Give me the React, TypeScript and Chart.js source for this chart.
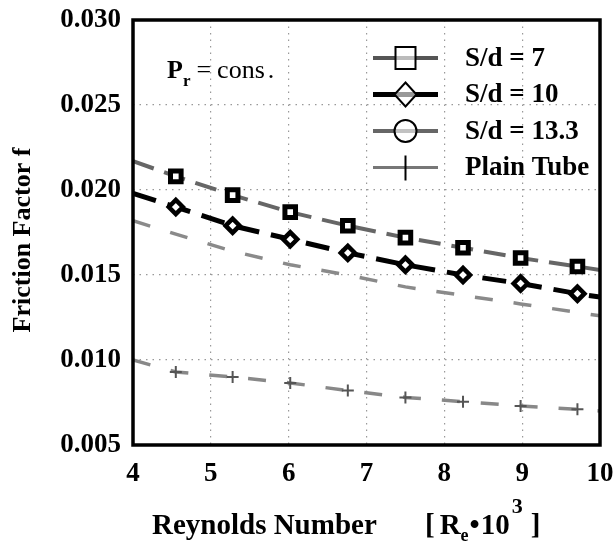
import React, { useEffect, useRef } from "react";
import { Chart, registerables } from "chart.js";

Chart.register(...registerables);

// ---- data ----
const reynolds = [4, 4.55, 5.28, 6.02, 6.76, 7.5, 8.24, 8.98, 9.71, 10];
const sd7 = [0.0217, 0.0208, 0.0197, 0.0187, 0.0179, 0.0172, 0.0166, 0.016, 0.0155, 0.0153];
const sd10 = [0.0198, 0.019, 0.0179, 0.0171, 0.0163, 0.0156, 0.015, 0.0145, 0.0139, 0.0137];
const sd133 = [0.0182, 0.0174, 0.0164, 0.0156, 0.015, 0.0143, 0.0138, 0.0133, 0.0128, 0.0126];
const plainTube = [0.01, 0.0093, 0.009, 0.00865, 0.0082, 0.0078, 0.00755, 0.0073, 0.0071, 0.007];
const seriesLabels = ["S/d = 7", "S/d = 10", "S/d = 13.3", "Plain Tube"];
const xTicks = [4, 5, 6, 7, 8, 9, 10];
const yTicks = [0.005, 0.01, 0.015, 0.02, 0.025, 0.03];

const SERIF = '"Liberation Serif", "DejaVu Serif", serif';

const pts = (ys: number[]) => reynolds.map((x, i) => ({ x, y: ys[i] }));
const markerRadius = (r: number) => reynolds.map((_, i) => (i === 0 || i === reynolds.length - 1 ? 0 : r));

const overlay = {
  id: "overlay",
  afterDraw(chart: any) {
    const { ctx, chartArea: a } = chart;
    ctx.save();
    // frame
    ctx.strokeStyle = "#000";
    ctx.lineWidth = 3.5;
    ctx.setLineDash([]);
    ctx.strokeRect(a.left, a.top, a.right - a.left, a.bottom - a.top);

    // P_r = cons.
    ctx.fillStyle = "#000";
    ctx.textBaseline = "alphabetic";
    ctx.textAlign = "left";
    let x = a.left + 34;
    const by = a.top + 58;
    ctx.font = `bold 26px ${SERIF}`;
    ctx.fillText("P", x, by);
    x += ctx.measureText("P").width;
    ctx.font = `bold 17px ${SERIF}`;
    ctx.fillText("r", x, by + 8);
    x += ctx.measureText("r").width + 6;
    ctx.font = `26px ${SERIF}`;
    ctx.fillText("=", x, by);
    x += ctx.measureText("=").width + 6;
    ctx.fillText("cons", x, by);
    x += ctx.measureText("cons").width + 3;
    ctx.fillText(".", x, by);

    // legend
    const lx0 = a.right - 227;
    const lx1 = a.right - 162;
    const mx = (lx0 + lx1) / 2;
    const tx = a.right - 135;
    const styles = [
      { color: "#555", width: 4 },
      { color: "#000", width: 5 },
      { color: "#666", width: 4 },
      { color: "#777", width: 3 },
    ];
    for (let i = 0; i < 4; i++) {
      const y = a.top + 38 + i * 36.5;
      ctx.setLineDash([]);
      ctx.strokeStyle = styles[i].color;
      ctx.lineWidth = styles[i].width;
      ctx.beginPath();
      ctx.moveTo(lx0, y);
      ctx.lineTo(lx1, y);
      ctx.stroke();
      ctx.strokeStyle = "#000";
      ctx.lineWidth = 2;
      ctx.fillStyle = "rgba(255,255,255,0.6)";
      ctx.beginPath();
      if (i === 0) {
        ctx.rect(mx - 10, y - 11, 20, 22);
      } else if (i === 1) {
        ctx.moveTo(mx, y - 12);
        ctx.lineTo(mx + 11, y);
        ctx.lineTo(mx, y + 12);
        ctx.lineTo(mx - 11, y);
        ctx.closePath();
      } else if (i === 2) {
        ctx.arc(mx, y, 11, 0, Math.PI * 2);
      }
      if (i < 3) {
        ctx.fill();
        ctx.stroke();
      } else {
        ctx.moveTo(mx, y - 12);
        ctx.lineTo(mx, y + 13);
        ctx.stroke();
      }
      ctx.fillStyle = "#000";
      ctx.font = `bold 27px ${SERIF}`;
      ctx.textBaseline = "middle";
      ctx.fillText(seriesLabels[i], tx, y + 1);
    }

    // y axis title
    ctx.save();
    ctx.translate(23, 240);
    ctx.rotate(-Math.PI / 2);
    ctx.textAlign = "center";
    ctx.textBaseline = "middle";
    ctx.font = `bold 26px ${SERIF}`;
    ctx.fillText("Friction Factor f", 0, 0);
    ctx.restore();

    // x axis title with sub/superscripts
    ctx.textBaseline = "alphabetic";
    ctx.textAlign = "left";
    const py = 534;
    ctx.font = `bold 29px ${SERIF}`;
    ctx.fillText("Reynolds Number", 152, py);
    const parts: [string, string, number, number][] = [
      ["[", `bold 29px ${SERIF}`, 0, 5],
      ["R", `bold 29px ${SERIF}`, 0, 0],
      ["e", `bold 18px ${SERIF}`, 7, 1],
      ["•", `bold 29px ${SERIF}`, 0, 1],
      ["10", `bold 29px ${SERIF}`, 0, 2],
      ["3", `bold 22px ${SERIF}`, -21, 8],
      ["]", `bold 29px ${SERIF}`, 0, 0],
    ];
    let px = 425;
    for (const [t, f, dy, gap] of parts) {
      ctx.font = f;
      ctx.fillText(t, px, py + dy);
      px += ctx.measureText(t).width + gap;
    }
    ctx.restore();
  },
};

export default function App() {
  const ref = useRef<HTMLCanvasElement | null>(null);
  useEffect(() => {
    document.body.style.margin = "0";
    const canvas = ref.current!;
    const chart = new Chart(canvas, {
      type: "line",
      data: {
        datasets: [
          {
            label: seriesLabels[0],
            data: pts(sd7),
            borderColor: "#666",
            borderWidth: 4,
            borderDash: [22, 11],
            pointStyle: "rect",
            pointRadius: markerRadius(7.5),
            pointBorderWidth: 5,
            pointBorderColor: "#000",
            pointBackgroundColor: "#fff",
            tension: 0,
          },
          {
            label: seriesLabels[1],
            data: pts(sd10),
            borderColor: "#000",
            borderWidth: 5,
            borderDash: [24, 12],
            pointStyle: "rectRot",
            pointRadius: markerRadius(7),
            pointBorderWidth: 4.5,
            pointBorderColor: "#000",
            pointBackgroundColor: "#fff",
            tension: 0,
          },
          {
            label: seriesLabels[2],
            data: pts(sd133),
            borderColor: "#8a8a8a",
            borderWidth: 3.5,
            borderDash: [18, 21],
            pointRadius: 0,
            tension: 0,
          },
          {
            label: seriesLabels[3],
            data: pts(plainTube),
            borderColor: "#888",
            borderWidth: 3.5,
            borderDash: [18, 21],
            pointStyle: "cross",
            pointRadius: markerRadius(6),
            pointBorderWidth: 2,
            pointBorderColor: "#555",
            tension: 0,
          },
        ],
      },
      options: {
        responsive: false,
        animation: false,
        events: [],
        layout: { padding: { top: 20, right: 14, left: 0, bottom: 0 } },
        plugins: { legend: { display: false }, tooltip: { enabled: false } },
        scales: {
          x: {
            type: "linear",
            min: 4,
            max: 10,
            afterFit: (s: any) => {
              s.height = 102;
              s.paddingLeft = 0;
              s.paddingRight = 0;
            },
            afterBuildTicks: (s: any) => {
              s.ticks = xTicks.map((v) => ({ value: v }));
            },
            ticks: {
              color: "#000",
              font: { family: SERIF, size: 27, weight: "bold" },
              padding: 13,
              maxRotation: 0,
            },
            grid: { color: "#999", lineWidth: 1.2, drawTicks: false },
            border: { display: false, dash: [1.5, 5] },
          },
          y: {
            type: "linear",
            min: 0.005,
            max: 0.03,
            afterFit: (s: any) => {
              s.width = 133;
              s.paddingTop = 0;
              s.paddingBottom = 0;
            },
            afterBuildTicks: (s: any) => {
              s.ticks = yTicks.map((v) => ({ value: v }));
            },
            ticks: {
              color: "#000",
              font: { family: SERIF, size: 27, weight: "bold" },
              padding: 12,
              callback: (v: any) => Number(v).toFixed(3),
            },
            grid: { color: "#999", lineWidth: 1.2, drawTicks: false },
            border: { display: false, dash: [1.5, 5] },
          },
        },
      },
      plugins: [overlay],
    } as any);
    return () => chart.destroy();
  }, []);
  return <canvas ref={ref} width={614} height={547} style={{ display: "block" }} />;
}
